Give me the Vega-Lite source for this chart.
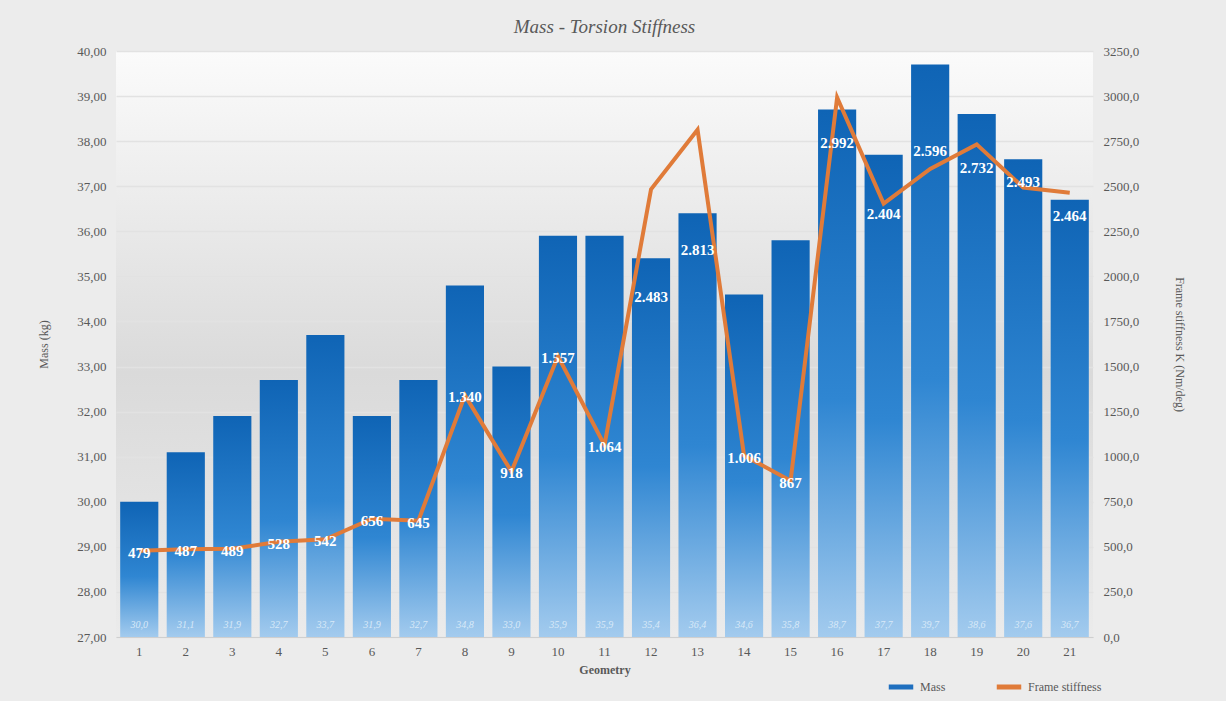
{
  "$schema": "https://vega.github.io/schema/vega-lite/v6.json",
  "autosize": {"type": "none"},
  "width": 977,
  "height": 586,
  "padding": {"left": 116, "top": 51, "right": 133, "bottom": 64},
  "background": "#ececec",
  "title": {"text": "Mass - Torsion Stiffness", "font": "Liberation Serif", "fontStyle": "italic", "fontWeight": "normal", "fontSize": 19, "color": "#595959", "offset": 8},
  "config": {
    "locale": {"number": {"decimal": ",", "thousands": ".", "grouping": [3], "currency": ["", " €"]}},
    "view": {"stroke": null, "fill": {"gradient": "linear", "x1": 0, "y1": 0, "x2": 0, "y2": 1, "stops": [{"offset": 0, "color": "#fbfbfb"}, {"offset": 0.55, "color": "#dadada"}, {"offset": 1, "color": "#ebebeb"}]}},
    "axis": {"labelFont": "Liberation Serif", "titleFont": "Liberation Serif", "labelColor": "#595959", "titleColor": "#595959", "labelFontSize": 13, "titleFontSize": 12, "titleFontWeight": "normal"},
    "legend": {"labelFont": "Liberation Serif", "labelFontSize": 12, "labelColor": "#595959"}
  },
  "data": {"values": [
    {"g": 1, "mass": 30.0, "k": 479},
    {"g": 2, "mass": 31.1, "k": 487},
    {"g": 3, "mass": 31.9, "k": 489},
    {"g": 4, "mass": 32.7, "k": 528},
    {"g": 5, "mass": 33.7, "k": 542},
    {"g": 6, "mass": 31.9, "k": 656},
    {"g": 7, "mass": 32.7, "k": 645},
    {"g": 8, "mass": 34.8, "k": 1340},
    {"g": 9, "mass": 33.0, "k": 918},
    {"g": 10, "mass": 35.9, "k": 1557},
    {"g": 11, "mass": 35.9, "k": 1064},
    {"g": 12, "mass": 35.4, "k": 2483},
    {"g": 13, "mass": 36.4, "k": 2813},
    {"g": 14, "mass": 34.6, "k": 1006},
    {"g": 15, "mass": 35.8, "k": 867},
    {"g": 16, "mass": 38.7, "k": 2992},
    {"g": 17, "mass": 37.7, "k": 2404},
    {"g": 18, "mass": 39.7, "k": 2596},
    {"g": 19, "mass": 38.6, "k": 2732},
    {"g": 20, "mass": 37.6, "k": 2493},
    {"g": 21, "mass": 36.7, "k": 2464}
  ]},
  "encoding": {
    "x": {"field": "g", "type": "ordinal", "title": "Geometry",
      "scale": {"paddingInner": 0.18, "paddingOuter": 0.09},
      "axis": {"labelAngle": 0, "ticks": false, "domainColor": "#cfcfcf", "labelPadding": 8, "titleFontWeight": "bold", "titleFontSize": 12, "titlePadding": 6}}
  },
  "layer": [
    {
      "layer": [
        {
          "mark": {"type": "bar", "strokeWidth": 0, "fill": {"gradient": "linear", "x1": 0, "y1": 0, "x2": 0, "y2": 1, "stops": [{"offset": 0, "color": "#0f64b5"}, {"offset": 0.55, "color": "#2f86d2"}, {"offset": 1, "color": "#a3cbee"}]}},
          "encoding": {
            "y": {"field": "mass", "type": "quantitative", "title": "Mass (kg)",
              "scale": {"domain": [27, 40], "zero": false, "nice": false},
              "axis": {"format": ".2f", "values": [27,28,29,30,31,32,33,34,35,36,37,38,39,40], "labelOverlap": false, "ticks": false, "domain": false, "gridColor": "#e2e2e2", "gridWidth": 1.5, "labelPadding": 10, "titlePadding": 26}},
            "y2": {"datum": 27},
            "stroke": {"datum": "Mass", "type": "nominal"}
          }
        },
        {
          "mark": {"type": "text", "font": "Liberation Serif", "fontStyle": "italic", "fontSize": 10, "color": "#d8e9f8", "baseline": "middle"},
          "encoding": {
            "y": {"datum": 27.27, "type": "quantitative"},
            "text": {"field": "mass", "type": "quantitative", "format": ".1f"}
          }
        }
      ]
    },
    {
      "layer": [
        {
          "mark": {"type": "line", "strokeWidth": 4, "color": "#e07b39"},
          "encoding": {
            "y": {"field": "k", "type": "quantitative", "title": "Frame stiffness K (Nm/deg)",
              "scale": {"domain": [0, 3250], "nice": false},
              "axis": {"orient": "right", "format": ".1f", "values": [0,250,500,750,1000,1250,1500,1750,2000,2250,2500,2750,3000,3250], "labelOverlap": false, "ticks": false, "domain": false, "grid": false, "labelPadding": 10, "titlePadding": 34}},
            "stroke": {"datum": "Frame stiffness", "type": "nominal",
              "scale": {"domain": ["Mass", "Frame stiffness"], "range": ["#1f6fbf", "#e07b39"]},
              "legend": {"orient": "none", "legendX": 770, "legendY": 621, "direction": "horizontal", "title": null, "symbolType": "stroke", "symbolStrokeWidth": 5, "symbolSize": 600, "columnPadding": 40, "labelOffset": 4}}
          }
        },
        {
          "mark": {"type": "text", "font": "Liberation Serif", "fontWeight": "bold", "fontSize": 15, "color": "white", "baseline": "middle",
            "dy": {"expr": "datum.g == 12 ? 108 : datum.g == 13 ? 120 : datum.g == 16 ? 45 : datum.g == 17 ? 10 : datum.g == 18 ? -18 : datum.g == 19 ? 24 : datum.g == 20 ? -5 : datum.g == 21 ? 23 : 2"}},
          "encoding": {
            "y": {"field": "k", "type": "quantitative"},
            "text": {"field": "k", "type": "quantitative", "format": ",d"}
          }
        }
      ]
    }
  ],
  "resolve": {"scale": {"y": "independent"}}
}
